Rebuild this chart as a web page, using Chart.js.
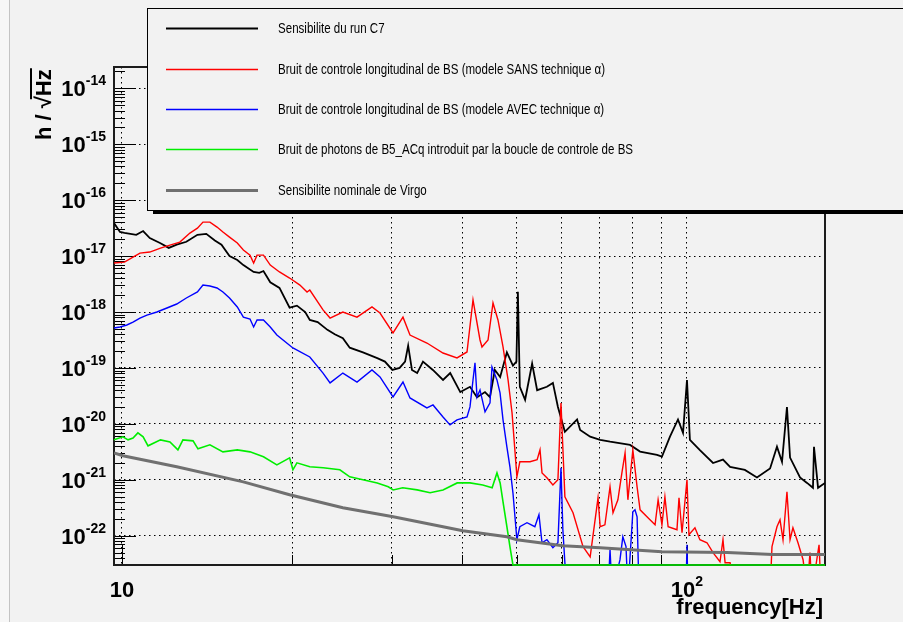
<!DOCTYPE html>
<html>
<head>
<meta charset="utf-8">
<script src="https://cdn.jsdelivr.net/npm/chart.js@4.4.0/dist/chart.umd.min.js"></script>
<style>
  html, body { margin: 0; padding: 0; background: #f2f2f2; }
  canvas { display: block; }
</style>
</head>
<body>
<canvas id="chart" width="903" height="622"></canvas>
<script>
// frequency in Hz, amplitude in 1/sqrt(Hz)
// values of 1e-23 sit below the axis (ROOT drops the line there)

const c7Freq = [9.68, 9.92, 10.1, 10.6, 10.9, 11.2, 11.7, 12.1, 12.5, 13.0, 13.6, 14.1, 14.6, 15.0, 15.5, 16.0, 16.4, 17.1, 17.5, 17.8,
  18.3, 19.0, 19.8, 20.4, 21.1, 21.5, 22.2, 23.1, 23.8, 24.6, 25.3, 26.7, 28.3, 29.2, 30.1, 31.0, 31.7, 32.1, 32.6, 33.3,
  34.1, 35.5, 37.0, 38.1, 39.7, 41.3, 42.5, 43.9, 44.8, 45.7, 46.7, 48.0, 49.2, 49.9, 50.2, 50.6, 51.7, 53.2, 54.3, 56.5,
  57.9, 59.1, 60.8, 63.9, 64.7, 67.4, 70.2, 73.1, 79.3, 82.6, 88.5, 90.3, 93.3, 96.4, 98.4, 100.0, 101.2, 105.4, 111.2, 115.8,
  119.2, 126.6, 133.0, 140.3, 144.3, 147.3, 150.3, 152.2, 158.5, 163.1, 167.1, 167.8, 170.6, 175.5];
const c7Amp = [3.9e-17, 2.7e-17, 2.6e-17, 2.4e-17, 2.8e-17, 2.1e-17, 1.7e-17, 1.4e-17, 1.6e-17, 1.8e-17, 2.4e-17, 2.5e-17, 1.9e-17, 1.6e-17, 1.0e-17, 8.5e-18, 6.9e-18, 5.2e-18, 5.0e-18, 5.4e-18,
  3.4e-18, 2.7e-18, 1.2e-18, 1.3e-18, 1.0e-18, 7.2e-19, 6.6e-19, 4.8e-19, 4.0e-19, 3.4e-19, 2.3e-19, 1.9e-19, 1.5e-19, 1.3e-19, 9.2e-20, 1.0e-19, 1.3e-19, 2.5e-19, 9.2e-20, 8.1e-20,
  1.3e-19, 9.2e-20, 6.1e-20, 8.1e-20, 3.7e-20, 4.6e-20, 3.0e-20, 3.7e-20, 3.0e-20, 9.2e-20, 6.9e-20, 1.9e-19, 1.1e-19, 1.3e-19, 2.3e-18, 4.6e-20, 2.7e-20, 1.2e-19, 4.0e-20, 4.6e-20,
  5.4e-20, 2.0e-20, 7.2e-21, 1.2e-20, 7.8e-21, 5.9e-21, 5.2e-21, 4.8e-21, 4.2e-21, 3.2e-21, 2.8e-21, 2.6e-21, 5.9e-21, 1.2e-20, 6.9e-21, 6.1e-20, 5.2e-21, 3.4e-21, 2.0e-21, 2.3e-21,
  1.7e-21, 1.5e-21, 1.1e-21, 1.6e-21, 3.9e-21, 2.1e-21, 2.0e-20, 2.5e-21, 1.1e-21, 8.8e-22, 7.2e-22, 3.9e-21, 7.2e-22, 8.8e-22];

const sansFreq = [9.68, 10.1, 10.46, 10.76, 11.2, 11.7, 12.16, 12.66, 13.19, 13.6, 13.91, 14.31, 14.73, 15.09, 15.5, 16.0, 16.4, 16.85, 17.1, 17.34,
  17.8, 18.3, 19.0, 19.8, 20.65, 21.26, 21.5, 22.69, 23.35, 24.6, 26.06, 27.7, 28.62, 30.18, 31.43, 32.34, 34.65, 37.0, 39.17, 40.8,
  41.81, 43.02, 43.37, 44.45, 45.36, 46.29, 47.25, 48.23, 49.02, 50.0, 50.6, 52.74, 54.3, 54.94, 55.39, 56.5, 57.9, 59.1, 59.84, 60.8,
  62.85, 65.47, 67.4, 69.59, 70.2, 71.57, 73.08, 73.97, 75.46, 76.7, 77.7, 78.6, 80.2, 81.6, 82.6, 85.3, 87.8, 88.9, 90.3, 91.4,
  92.6, 96.0, 96.8, 98.0, 100.0, 100.8, 103.3, 105.4, 108.5, 111.2, 114.4, 115.8, 116.8, 119.2, 121.6, 140.3, 141.4, 144.3, 146.1, 147.9,
  150.3, 152.2, 154.0, 157.2, 160.5, 163.1, 165.1, 166.4, 171.3, 172.7, 175.5];
const sansAmp = [7.5e-18, 7.8e-18, 9.6e-18, 1.13e-17, 1.18e-17, 1.39e-17, 1.57e-17, 1.78e-17, 2.58e-17, 3.16e-17, 4.05e-17, 4.05e-17, 3.3e-17, 2.69e-17, 2.18e-17, 1.71e-17, 1.28e-17, 1.04e-17, 7.5e-18, 1.04e-17,
  1.04e-17, 6.9e-18, 5.2e-18, 4.05e-18, 3.03e-18, 2.28e-18, 2.47e-18, 1.09e-18, 7.8e-19, 1.0e-18, 8.1e-19, 1.23e-18, 9.6e-19, 4.22e-19, 8.1e-19, 3.88e-19, 2.79e-19, 1.85e-19, 1.51e-19, 1.93e-19,
  1.64e-18, 3.16e-19, 2.37e-19, 3.16e-19, 1.45e-18, 7.2e-19, 2.37e-19, 6.1e-20, 1.57e-20, 1.13e-21, 2.1e-21, 2.1e-21, 2.28e-21, 3.43e-21, 1.33e-21, 1.09e-21, 8.1e-22, 1.0e-21, 2.37e-20, 4.97e-22,
  2.58e-22, 6.4e-23, 4.2e-23, 4.77e-22, 1.45e-22, 1.57e-22, 7.5e-22, 2.58e-22, 4.39e-22, 1.33e-21, 3.03e-21, 4.39e-22, 3.43e-21, 7.5e-22, 2.91e-22, 2.1e-22, 1.57e-22, 4.39e-22, 1.57e-22, 4.97e-22,
  1.45e-22, 1.28e-22, 4.77e-22, 1.13e-22, 1.0e-21, 1.04e-22, 1.39e-22, 8.5e-23, 7.5e-23, 5.0e-23, 3.43e-23, 8.5e-23, 3.3e-23, 3.3e-23, 1e-23, 1e-23, 6.4e-23, 1.45e-22, 1.93e-22, 8.5e-23,
  6.1e-22, 8.5e-23, 1.39e-22, 7.5e-23, 3.73e-23, 1e-23, 5.0e-23, 1e-23, 6.9e-23, 1e-23, 1e-23];

const avecFreq = [9.68, 9.92, 10.2, 10.46, 10.76, 11.07, 11.53, 12.01, 12.5, 13.0, 13.6, 13.91, 14.31, 14.73, 15.09, 15.5, 16.0, 16.4, 16.85, 17.1,
  17.34, 17.8, 18.3, 18.8, 20.07, 21.5, 22.69, 23.35, 24.6, 26.06, 27.7, 28.62, 30.18, 31.43, 32.34, 34.65, 35.52, 37.0, 38.07, 39.17,
  40.8, 41.3, 41.81, 42.15, 42.5, 43.02, 43.91, 44.81, 45.17, 46.1, 46.68, 47.25, 48.0, 48.6, 49.2, 50.0, 50.6, 52.1, 53.8, 54.7,
  55.39, 56.5, 57.9, 59.1, 59.84, 60.3, 60.8, 61.3, 72.5, 73.08, 73.7, 76.1, 77.0, 78.0, 78.6, 80.2, 80.9, 81.6, 82.25, 99.6,
  100.0, 100.4, 175.5];
const avecAmp = [5.18e-19, 5.4e-19, 5.86e-19, 6.6e-19, 7.8e-19, 8.8e-19, 1.0e-18, 1.18e-18, 1.39e-18, 1.78e-18, 2.28e-18, 3.03e-18, 2.91e-18, 2.69e-18, 2.28e-18, 1.78e-18, 1.23e-18, 8.1e-19, 7.5e-19, 5.4e-19,
  7.2e-19, 7.2e-19, 5.4e-19, 3.88e-19, 2.28e-19, 1.57e-19, 8.1e-20, 5.4e-20, 8.1e-20, 5.6e-20, 9.2e-20, 6.9e-20, 3.03e-20, 5.6e-20, 2.91e-20, 1.93e-20, 2.18e-20, 1.33e-20, 9.6e-21, 1.18e-20,
  1.33e-20, 2.01e-20, 6.1e-20, 1.23e-19, 3.03e-20, 4.05e-20, 1.64e-20, 2.37e-20, 1.04e-19, 6.1e-20, 3.58e-20, 1.18e-20, 3.88e-21, 1.71e-21, 5.86e-22, 8.5e-23, 1.45e-22, 1.71e-22, 1.45e-22, 2.37e-22,
  7.5e-23, 8.5e-23, 6.1e-23, 7.5e-23, 1.64e-21, 1.28e-22, 3.3e-23, 1e-23, 1e-23, 5.6e-23, 1e-23, 3.7e-23, 9.6e-23, 6.4e-23, 1e-23, 2.69e-22, 2.91e-22, 2.18e-22, 1e-23, 1e-23,
  6.9e-23, 1e-23, 1e-23];

const photonFreq = [9.68, 10.04, 10.25, 10.46, 10.67, 10.9, 11.12, 11.7, 12.16, 12.56, 12.82, 13.36, 13.63, 14.31, 15.09, 16.0, 16.85, 17.8, 18.8, 19.8,
  20.07, 20.4, 21.5, 22.7, 24.3, 25.3, 26.7, 28.3, 29.6, 30.2, 31.4, 33.3, 35.1, 37.0, 39.2, 41.3, 43.5, 45.2, 46.1, 46.7,
  47.25, 48.0, 48.6, 49.2, 175.5];
const photonAmp = [5.18e-21, 5.86e-21, 5.18e-21, 5.6e-21, 6.9e-21, 5.86e-21, 4.05e-21, 5.18e-21, 4.77e-21, 3.43e-21, 5.18e-21, 4.97e-21, 3.58e-21, 4.22e-21, 3.16e-21, 3.43e-21, 3.16e-21, 2.58e-21, 1.85e-21, 2.47e-21,
  1.51e-21, 2.01e-21, 1.71e-21, 1.64e-21, 1.51e-21, 1.13e-21, 1.0e-21, 8.8e-22, 7.5e-22, 6.6e-22, 7.2e-22, 6.6e-22, 5.86e-22, 6.6e-22, 8.8e-22, 8.8e-22, 8.1e-22, 7.2e-22, 1.33e-21, 8.8e-22,
  4.05e-22, 1.45e-22, 6.4e-23, 3.0e-23, 3.0e-23];

const virgoFreq = [9.68, 10.04, 12.5, 16.4, 19.8, 24.6, 30.2, 37.0, 40.1, 48.0, 50.0, 60.3, 70.2, 90.3, 117.8, 141.9, 175.5];
const virgoAmp = [3.03e-21, 2.69e-21, 1.71e-21, 9.2e-22, 5.4e-22, 3.16e-22, 2.18e-22, 1.45e-22, 1.23e-22, 9.6e-23, 8.5e-23, 6.6e-23, 6.1e-23, 5.2e-23, 5.0e-23, 4.6e-23, 4.6e-23];

const xGridFreqs = [10, 20, 30, 40, 50, 60, 70, 80, 90, 100];
const xLabelFreqs = [10, 100];
const yDecades = [1e-22, 1e-21, 1e-20, 1e-19, 1e-18, 1e-17, 1e-16, 1e-15, 1e-14];

const FONT = '"Liberation Sans", Arial, sans-serif';

function pts(f, a) {
  return f.map((x, i) => ({ x: x, y: a[i] }));
}

function drawPow(ctx, cx, base, exp, align) {
  // "10" with a superscript exponent, ROOT style
  ctx.font = 'bold 22px ' + FONT;
  const wb = ctx.measureText('10').width;
  ctx.font = 'bold 14px ' + FONT;
  const we = exp === null ? 0 : ctx.measureText(exp).width;
  const w = wb + we;
  let left = align === 'right' ? cx - w : cx - w / 2;
  ctx.textAlign = 'left';
  ctx.textBaseline = 'alphabetic';
  ctx.font = 'bold 22px ' + FONT;
  ctx.fillText('10', left, base);
  if (exp !== null) {
    ctx.font = 'bold 14px ' + FONT;
    ctx.fillText(exp, left + wb, base - 11);
  }
}

const rootFrame = {
  id: 'rootFrame',
  beforeDraw(chart) {
    const ctx = chart.ctx;
    ctx.save();
    ctx.fillStyle = '#f2f2f2';
    ctx.fillRect(0, 0, chart.width, chart.height);
    ctx.fillStyle = '#f7f7f7';
    ctx.fillRect(0, 0, 9, chart.height);
    ctx.fillStyle = '#c4c4c4';
    ctx.fillRect(9, 0, 1, chart.height);
    ctx.restore();
  },
  beforeDatasetsDraw(chart) {
    const ctx = chart.ctx;
    const a = chart.chartArea;
    const x = chart.scales.x, y = chart.scales.y;
    ctx.save();

    // tick marks, drawn inside the frame
    ctx.strokeStyle = '#000';
    ctx.lineWidth = 1;
    ctx.beginPath();
    for (let d = Math.floor(Math.log10(y.min)); d <= Math.ceil(Math.log10(y.max)); d++) {
      for (let m = 1; m <= 9; m++) {
        const v = m * Math.pow(10, d);
        if (v < y.min || v > y.max) continue;
        const py = Math.round(y.getPixelForValue(v)) + 0.5;
        ctx.moveTo(a.left, py);
        ctx.lineTo(a.left + (m === 1 ? 22 : 11), py);
      }
    }
    for (let d = Math.floor(Math.log10(x.min)); d <= Math.ceil(Math.log10(x.max)); d++) {
      for (let m = 1; m <= 9; m++) {
        const v = m * Math.pow(10, d);
        if (v < x.min || v > x.max) continue;
        const px = Math.round(x.getPixelForValue(v)) + 0.5;
        ctx.moveTo(px, a.bottom);
        ctx.lineTo(px, a.bottom - (m === 1 ? 20 : 10));
      }
    }
    ctx.stroke();

    // frame, under the curves as in ROOT
    ctx.strokeStyle = '#1c1c1c';
    ctx.lineWidth = 2;
    ctx.strokeRect(a.left, a.top, a.right - a.left, a.bottom - a.top);
    ctx.restore();
  },
  afterDatasetsDraw(chart) {
    const ctx = chart.ctx;
    const a = chart.chartArea;
    const x = chart.scales.x, y = chart.scales.y;
    ctx.save();

    // y tick labels
    ctx.fillStyle = '#000';
    ctx.strokeStyle = '#000';
    yDecades.forEach(v => {
      const py = y.getPixelForValue(v);
      drawPow(ctx, a.left - 8, py + 8, String(Math.round(Math.log10(v))), 'right');
    });
    // x tick labels
    xLabelFreqs.forEach(v => {
      const px = x.getPixelForValue(v);
      const e = Math.round(Math.log10(v));
      drawPow(ctx, px, 597, e === 1 ? null : String(e), 'center');
    });

    // axis titles
    ctx.font = 'bold 22px ' + FONT;
    ctx.textAlign = 'right';
    ctx.textBaseline = 'alphabetic';
    ctx.fillText('frequency[Hz]', a.right - 2, 614);

    ctx.save();
    ctx.translate(51, 140);
    ctx.rotate(-Math.PI / 2);
    ctx.textAlign = 'left';
    const head = 'h / \u221A';
    ctx.fillText(head, 0, 0);
    const wh = ctx.measureText(head).width;
    ctx.fillText('Hz', wh, 0);
    const wz = ctx.measureText('Hz').width;
    ctx.lineWidth = 2;
    ctx.beginPath();
    ctx.moveTo(wh - 3, -20);
    ctx.lineTo(wh + wz + 1, -20);
    ctx.stroke();
    ctx.restore();

    // legend box with ROOT shadow
    const lx = 147, ly = 8, lw = 770, lh = 202;
    ctx.fillStyle = '#000';
    ctx.fillRect(lx + 6, ly + lh, lw, 4);
    ctx.fillStyle = '#f2f2f2';
    ctx.fillRect(lx, ly, lw, lh);
    ctx.strokeStyle = '#000';
    ctx.lineWidth = 1;
    ctx.strokeRect(lx + 0.5, ly + 0.5, lw, lh);
    const rowH = lh / chart.data.datasets.length;
    chart.data.datasets.forEach((ds, i) => {
      const cy = Math.round(ly + rowH * (i + 0.5));
      ctx.strokeStyle = ds.borderColor;
      ctx.lineWidth = ds.borderWidth;
      ctx.beginPath();
      ctx.moveTo(lx + 19, cy + 0.5);
      ctx.lineTo(lx + 111, cy + 0.5);
      ctx.stroke();
      ctx.save();
      ctx.translate(lx + 131, cy + 5);
      ctx.scale(0.77, 1);
      ctx.fillStyle = '#000';
      ctx.font = '15px ' + FONT;
      ctx.textAlign = 'left';
      ctx.fillText(ds.label, 0, 0);
      ctx.restore();
    });

    ctx.restore();
  }
};

const gridAxis = (min, max, ticks, fit) => ({
  type: 'logarithmic',
  min: min,
  max: max,
  bounds: 'data',
  afterBuildTicks: s => { s.ticks = ticks.map(v => ({ value: v })); },
  afterFit: fit,
  ticks: { display: false },
  grid: { color: '#000', lineWidth: 1, drawTicks: false },
  border: { display: false, dash: [1.5, 3.5] }
});

new Chart(document.getElementById('chart').getContext('2d'), {
  type: 'line',
  data: {
    datasets: [
      { label: 'Sensibilite du run C7', data: pts(c7Freq, c7Amp), borderColor: '#000000', borderWidth: 1.8, order: 4 },
      { label: 'Bruit de controle longitudinal de BS (modele SANS technique \u03B1)', data: pts(sansFreq, sansAmp), borderColor: '#ff0000', borderWidth: 1.4, order: 3 },
      { label: 'Bruit de controle longitudinal de BS (modele AVEC technique \u03B1)', data: pts(avecFreq, avecAmp), borderColor: '#0000ff', borderWidth: 1.4, order: 2 },
      { label: 'Bruit de photons de B5_ACq introduit par la boucle de controle de BS', data: pts(photonFreq, photonAmp), borderColor: '#00ee00', borderWidth: 1.6, order: 1, clip: false },
      { label: 'Sensibilite nominale de Virgo', data: pts(virgoFreq, virgoAmp), borderColor: '#707070', borderWidth: 3, order: 0 }
    ]
  },
  options: {
    responsive: false,
    animation: false,
    events: [],
    layout: { padding: { left: 114, right: 78, top: 67, bottom: 57 } },
    elements: { point: { radius: 0 }, line: { tension: 0, fill: false } },
    plugins: { legend: { display: false }, tooltip: { enabled: false } },
    scales: {
      x: gridAxis(9.68, 175.5, xGridFreqs, s => { s.height = 0; }),
      y: gridAxis(3.0e-23, 2.4e-14, yDecades, s => { s.width = 0; })
    }
  },
  plugins: [rootFrame]
});
</script>
</body>
</html>
